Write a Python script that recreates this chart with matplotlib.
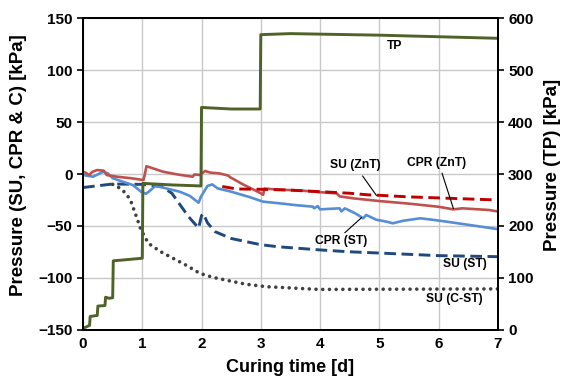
import matplotlib
matplotlib.use("Agg")
import matplotlib.pyplot as plt

plt.rcParams['font.family'] = ['Liberation Sans', 'DejaVu Sans']
plt.rcParams['font.weight'] = 'bold'

# Total pressure (right axis, kPa)
tp_x = [0.00, 0.11, 0.12, 0.24, 0.25, 0.37, 0.38, 0.44, 0.50, 0.51, 1.00, 1.01,
        1.50, 1.99, 2.00, 2.50, 2.99, 3.00, 3.50, 5.00, 7.00]
tp_y = [3, 9, 26, 28, 46, 47, 63, 61, 62, 133, 138, 282,
        279, 277, 428, 425, 425, 568, 570, 567, 561]

# CPR (ZnT)
cpr_znt_x = [0.00, 0.05, 0.10, 0.16, 0.24, 0.35, 0.40, 0.57, 0.80, 1.02, 1.04, 1.07,
             1.35, 1.60, 1.85, 1.88, 1.97, 2.06, 2.15, 2.30, 2.45, 2.48, 2.70, 3.00,
             3.04, 3.06, 3.30, 3.70, 4.00, 4.28, 4.33, 4.56, 5.00, 5.50, 6.00, 6.25,
             6.40, 6.85, 7.00]
cpr_znt_y = [2.2, 1.0, -1.0, 2.2, 3.8, 3.2, -1.0, -2.6, -4.0, -5.8, -1.0, 7.5,
             2.2, -0.5, -2.6, -0.4, -1.0, 2.9, 1.3, 0.6, -1.5, -3.0, -10.0, -18.5,
             -20.0, -14.0, -15.0, -16.0, -17.5, -18.6, -21.5, -23.4, -26.0, -28.5, -31.5, -34.0,
             -33.0, -34.6, -36.0]

# SU (ZnT)
su_znt_x = [2.35, 2.50, 2.60, 3.00, 3.50, 4.00, 4.50, 4.80, 5.00, 5.50, 6.00, 6.50, 7.00]
su_znt_y = [-12.0, -13.5, -14.4, -14.7, -15.5, -17.0, -18.5, -20.0, -20.5, -22.0, -23.0, -24.0, -25.0]

# CPR (ST)
cpr_st_x = [0.00, 0.17, 0.34, 0.42, 0.50, 0.67, 0.84, 0.98, 1.06, 1.11, 1.22, 1.40,
            1.63, 1.80, 1.95, 1.99, 2.10, 2.18, 2.27, 2.50, 2.80, 3.04, 3.32, 3.60,
            3.88, 3.90, 3.96, 4.00, 4.33, 4.36, 4.42, 4.60, 4.73, 4.78, 4.95, 5.12,
            5.23, 5.40, 5.69, 5.90, 6.13, 6.52, 7.00]
cpr_st_y = [-1.0, -2.6, 2.2, 0.6, -4.0, -7.4, -10.6, -17.0, -19.0, -17.0, -11.5, -13.8,
            -17.0, -21.0, -27.6, -21.8, -11.5, -10.0, -13.8, -17.0, -22.0, -26.6, -28.2, -30.0,
            -31.4, -33.0, -30.8, -34.0, -33.0, -36.0, -33.0, -38.0, -42.6, -39.4, -44.0, -45.8,
            -47.4, -45.0, -42.6, -44.0, -45.8, -49.0, -53.0]

# SU (ST)
su_st_x = [0.00, 0.50, 1.00, 1.33, 1.50, 1.78, 1.95, 2.00, 2.03, 2.10, 2.23, 2.50,
           3.00, 3.30, 4.00, 4.46, 5.00, 6.00, 7.00]
su_st_y = [-13.0, -9.6, -10.0, -12.0, -18.6, -41.0, -52.0, -40.0, -38.0, -47.0, -55.5, -62.0,
           -68.0, -70.0, -73.0, -74.7, -76.0, -78.5, -79.5]

# SU (C-ST)
su_cst_x = [0.50, 0.63, 0.72, 0.80, 0.89, 0.98, 1.05, 1.10, 1.31, 1.50, 1.75, 1.97,
            2.20, 2.45, 2.75, 3.10, 3.32, 3.98, 5.00, 7.00]
su_cst_y = [-10.0, -13.8, -18.6, -25.0, -39.4, -54.0, -61.0, -66.6, -74.7, -80.5, -88.0, -95.5,
            -99.5, -102.5, -106.0, -108.4, -109.0, -111.0, -110.8, -110.5]

fig = plt.figure(figsize=(5.65, 3.80), dpi=100)
ax = fig.add_axes([0.147, 0.1316, 0.734, 0.821])
ax2 = ax.twinx()

c_tp = '#4F6228'
c_cpr_znt = '#C0504D'
c_su_znt = '#C00000'
c_cpr_st = '#558ED5'
c_su_st = '#1F497D'
c_su_cst = '#404040'

dash = (0, (4.0, 1.9))
ax.plot(su_cst_x, su_cst_y, color=c_su_cst, lw=2.6, linestyle=(0, (0.01, 1.85)),
        dash_capstyle='round', zorder=2)
ax.plot(su_st_x, su_st_y, color=c_su_st, lw=2.1, linestyle=dash, zorder=3)
ax.plot(cpr_st_x, cpr_st_y, color=c_cpr_st, lw=1.9, zorder=4)
ax.plot(cpr_znt_x, cpr_znt_y, color=c_cpr_znt, lw=1.9, zorder=4)
ax.plot(su_znt_x, su_znt_y, color=c_su_znt, lw=2.1, linestyle=dash, zorder=5)

ax2.plot(tp_x, tp_y, color=c_tp, lw=2.1)

ax.set_xlim(0, 7)
ax.set_ylim(-150, 150)
ax2.set_ylim(0, 600)
ax.set_xticks(range(0, 8))
ax.set_yticks(range(-150, 151, 50))
ax2.set_yticks(range(0, 601, 100))

ax.grid(True, color='#C8C8C8', lw=1.0)
ax.set_axisbelow(True)

for a in (ax, ax2):
    for s in a.spines.values():
        s.set_linewidth(1.4)
        s.set_color('black')

ax.tick_params(axis='y', labelsize=11, length=4, width=1.2, direction='out')
ax.tick_params(axis='x', labelsize=11, length=0, pad=5)
ax2.tick_params(axis='y', labelsize=11, length=4, width=1.2, direction='out')
for lab in ax.get_xticklabels() + ax.get_yticklabels() + ax2.get_yticklabels():
    lab.set_fontweight('bold')

ax.set_xlabel('Curing time [d]', fontsize=13, fontweight='bold', labelpad=6)
ax.set_ylabel('Pressure (SU, CPR & C) [kPa]', fontsize=13.5, fontweight='bold')
ax2.set_ylabel('Pressure (TP) [kPa]', fontsize=13.5, fontweight='bold')
ax.yaxis.set_label_coords(-0.135, 0.53)
ax2.yaxis.set_label_coords(1.111, 0.53)

ann = dict(fontsize=8.7, fontweight='bold', ha='center', va='center')
ax.text(5.26, 123, 'TP', **ann)
ax.text(4.59, 8.7, 'SU (ZnT)', **ann)
ax.plot([4.72, 4.95], [-2, -20.5], color='black', lw=0.8, zorder=6)
ax.text(5.97, 10.3, 'CPR (ZnT)', **ann)
ax.plot([6.06, 6.25], [0.7, -33], color='black', lw=0.8, zorder=6)
ax.text(4.35, -64, 'CPR (ST)', **ann)
ax.plot([4.42, 4.70], [-56.4, -42.0], color='black', lw=0.8, zorder=6)
ax.text(6.44, -86.5, 'SU (ST)', **ann)
ax.text(6.27, -120, 'SU (C-ST)', **ann)

fig.savefig('out.png', dpi=100)
